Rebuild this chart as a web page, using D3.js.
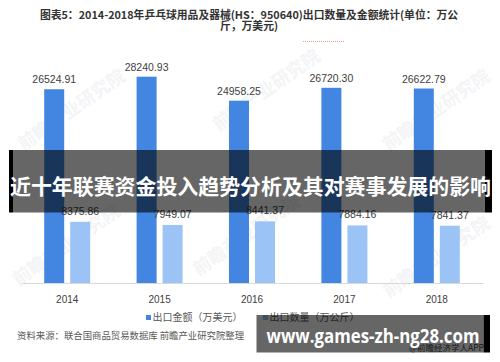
<!DOCTYPE html>
<html><head><meta charset="utf-8">
<script src="https://cdn.jsdelivr.net/npm/d3@7"></script>
<style>html,body{margin:0;padding:0;background:#fff;}svg{display:block;}</style>
</head><body>
<svg id="c" width="500" height="362"></svg>
<script>
const years = ["2014","2015","2016","2017","2018"];
const amount = [26524.91, 28240.93, 24958.25, 26720.30, 26622.79];
const quantity = [8375.86, 7949.07, 8441.37, 7884.16, 7841.37];
const seriesNames = ["出口金额（万美元）","出口数量（万公斤）"];
const seriesColors = ["#4286e1","#9cc3f6"];
const titleLines = ["图表5：2014-2018年乒乓球用品及器械(HS：950640)出口数量及金额统计(单位：万公","斤，万美元)"];
const sourceText = "资料来源：联合国商品贸易数据库 前瞻产业研究院整理";
const overlayText1 = "近十年联赛资金投入趋势分析及其对赛事发展的影响";
const overlayText2 = "www.games-zh-ng28.com";
const watermark = "前瞻产业研究院";

const svg = d3.select("#c");
const cjk = "'Noto Sans CJK SC','Noto Sans',sans-serif";
const num = "'Liberation Sans','DejaVu Sans',sans-serif";

// watermarks
[[75,115],[270,95],[440,115],[70,250],[250,240],[440,262]].forEach(([x,y])=>{
  svg.append("text").attr("x",x).attr("y",y).attr("transform",`rotate(-35,${x},${y})`)
    .attr("text-anchor","middle").attr("font-family",cjk).attr("font-size",18).attr("font-weight","bold")
    .attr("fill","#f3f4f6").text(watermark);
});

// title
titleLines.forEach((t,i)=>{
  svg.append("text").attr("x",249).attr("y",19+i*11).attr("text-anchor","middle")
    .attr("font-family",cjk).attr("font-weight","bold").attr("font-size",10.8).attr("fill","#333")
    .text(t);
});
svg.append("line").attr("x1",303).attr("x2",345).attr("y1",41.5).attr("y2",41.5)
  .attr("stroke","#f29a9a").attr("stroke-width",1).attr("stroke-dasharray","1,1");

// scales
const y = d3.scaleLinear().domain([0,30000]).range([283, 283-30000*0.007305]);
const x0 = d3.scaleBand().domain(years).range([21,483]).padding(0);
const bw = x0.bandwidth();
const x1 = d3.scaleBand().domain([0,1]).range([bw/2-23, bw/2+23]).paddingInner(0.2308).paddingOuter(0);

// axis
const xAxis = d3.axisBottom(x0).tickSize(0).tickPadding(13);
const ax = svg.append("g").attr("transform","translate(0,283)").call(xAxis);
ax.select(".domain").attr("stroke","#d9d9d9");
ax.selectAll("text").attr("font-family",num).attr("font-size",10).attr("fill","#404040");

const data = [amount, quantity];
const g = svg.append("g");
data.forEach((vals,si)=>{
  g.selectAll(null).data(years).enter().append("rect")
    .attr("x",d=>x0(d)+x1(si)).attr("width",x1.bandwidth())
    .attr("y",(d,i)=>y(vals[i])).attr("height",(d,i)=>y(0)-y(vals[i]))
    .attr("fill",seriesColors[si]);
  g.selectAll(null).data(years).enter().append("text")
    .attr("x",d=>x0(d)+x1(si)+x1.bandwidth()/2)
    .attr("y",(d,i)=>y(vals[i])-(si===0?6:7))
    .attr("text-anchor","middle").attr("font-family",num).attr("font-size",10.5).attr("fill","#404040")
    .text((d,i)=>vals[i].toFixed(2));
});

// legend
const leg = [[146,seriesNames[0]],[263,seriesNames[1]]];
leg.forEach(([lx,t],i)=>{
  svg.append("rect").attr("x",lx).attr("y",315).attr("width",5).attr("height",5).attr("fill",seriesColors[i]);
  svg.append("text").attr("x",lx+6.5).attr("y",321).attr("font-family",cjk).attr("font-size",10)
    .attr("fill","#595959").text(t);
});

// source
svg.append("text").attr("x",17).attr("y",338.5).attr("font-family",cjk).attr("font-size",9.4)
  .attr("fill","#595959").text(sourceText);
svg.append("text").attr("x",484).attr("y",350.5).attr("text-anchor","end").attr("font-family",cjk)
  .attr("font-size",8.5).attr("fill","#444").text("@前瞻经济学人APP");

// overlay band 1
svg.append("rect").attr("x",9).attr("y",150).attr("width",4).attr("height",62.5).attr("fill","#000");
svg.append("rect").attr("x",485).attr("y",150).attr("width",7).attr("height",62.5).attr("fill","#000");
svg.append("rect").attr("x",13).attr("y",150).attr("width",472).attr("height",62.5).attr("fill","#000").attr("opacity",0.6);
svg.append("text").attr("x",250.5).attr("y",194).attr("text-anchor","middle").attr("font-family",cjk)
  .attr("font-weight","bold").attr("font-size",21).attr("fill","#fff")
  .attr("textLength",481).attr("lengthAdjust","spacingAndGlyphs").text(overlayText1);

// overlay band 2
svg.append("rect").attr("x",483.5).attr("y",315).attr("width",6.5).attr("height",37.5).attr("fill","#000");
svg.append("rect").attr("x",256.5).attr("y",315).attr("width",227).attr("height",37.5).attr("fill","#000").attr("opacity",0.6);
svg.append("text").attr("x",266.5).attr("y",343).attr("font-family","'Open Sans','DejaVu Sans',sans-serif")
  .attr("font-weight","bold").attr("font-size",20).attr("fill","#fff")
  .attr("textLength",213).attr("lengthAdjust","spacingAndGlyphs").text(overlayText2);
</script>
</body></html>
